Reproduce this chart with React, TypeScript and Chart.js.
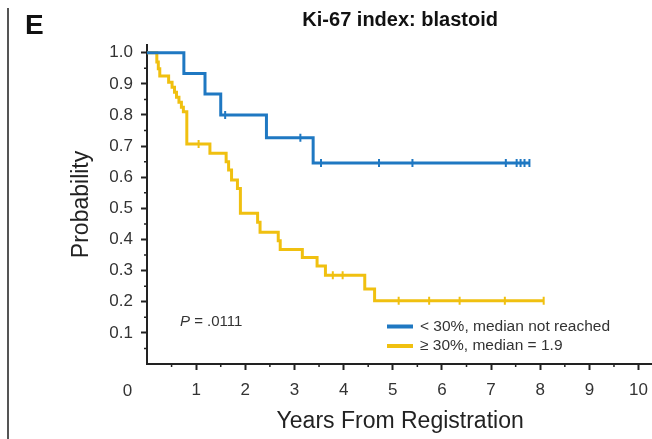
import { useEffect, useRef } from 'react';
import { Chart, registerables } from 'chart.js';

Chart.register(...registerables);

const FONT = "'Liberation Sans', Arial, Helvetica, sans-serif";

// ---- text ----
const panelLetter = 'E';
const chartTitle = 'Ki-67 index: blastoid';
const xAxisTitle = 'Years From Registration';
const yAxisTitle = 'Probability';
const originLabel = '0';
const pValueLetter = 'P';
const pValueText = ' = .0111';

// ---- ticks ----
const xTickValues = [1, 2, 3, 4, 5, 6, 7, 8, 9, 10];
const xMinorTicks = [0.5, 1.5, 2.5, 3.5, 4.5, 5.5, 6.5, 7.5, 8.5, 9.5];
const yTickValues = [0.1, 0.2, 0.3, 0.4, 0.5, 0.6, 0.7, 0.8, 0.9, 1.0];
const yMinorTicks = [0.05, 0.15, 0.25, 0.35, 0.45, 0.55, 0.65, 0.75, 0.85, 0.95];

// ---- series ----
const seriesLabels = ['< 30%, median not reached', '\u2265 30%, median = 1.9'];
const seriesColors = ['#1f78c2', '#f0c010'];

// < 30%
const lowEventTimes = [0, 0.75, 1.18, 1.5, 2.43, 3.38];
const lowEventSurv = [1.0, 0.933, 0.867, 0.8, 0.727, 0.646];
const lowCensorTimes = [1.59, 3.12, 3.54, 4.72, 5.4, 7.3, 7.52, 7.6, 7.68, 7.78];

// >= 30%
const highEventTimes = [0, 0.2, 0.23, 0.26, 0.44, 0.51, 0.56, 0.6, 0.65, 0.7, 0.74, 0.81, 1.28, 1.61, 1.66, 1.72, 1.84, 1.9, 2.25, 2.3, 2.67, 2.71, 3.16, 3.46, 3.63, 4.43, 4.63];
const highEventSurv = [1.0, 0.97, 0.948, 0.925, 0.905, 0.889, 0.873, 0.857, 0.841, 0.825, 0.81, 0.707, 0.677, 0.65, 0.623, 0.591, 0.564, 0.484, 0.455, 0.423, 0.396, 0.368, 0.342, 0.315, 0.285, 0.241, 0.203];
const highCensorTimes = [1.05, 3.78, 3.98, 5.12, 5.74, 6.36, 7.28, 8.07];

type Pt = { x: number; y: number; c: boolean };

function buildCurve(times: number[], surv: number[], censors: number[]): Pt[] {
  const pts: Pt[] = times.map((t, i) => ({ x: t, y: surv[i], c: false }));
  censors.forEach((t) => {
    let s = surv[0];
    times.forEach((et, i) => {
      if (et <= t) s = surv[i];
    });
    pts.push({ x: t, y: s, c: true });
  });
  pts.sort((a, b) => a.x - b.x);
  return pts;
}

const overlayPlugin = {
  id: 'overlay',
  afterDraw(chart: any) {
    const { ctx, chartArea, scales } = chart;
    const xs = scales.x;
    const ys = scales.y;
    ctx.save();

    // panel rule
    ctx.strokeStyle = '#555';
    ctx.lineWidth = 2;
    ctx.beginPath();
    ctx.moveTo(8, 8);
    ctx.lineTo(8, 439);
    ctx.stroke();

    // panel letter
    ctx.fillStyle = '#111';
    ctx.font = `bold 28px ${FONT}`;
    ctx.textAlign = 'left';
    ctx.textBaseline = 'alphabetic';
    ctx.fillText(panelLetter, 25, 34);

    // minor ticks
    ctx.strokeStyle = '#222';
    ctx.lineWidth = 1.5;
    ctx.beginPath();
    xMinorTicks.forEach((v) => {
      const px = xs.getPixelForValue(v);
      ctx.moveTo(px, chartArea.bottom);
      ctx.lineTo(px, chartArea.bottom + 3);
    });
    yMinorTicks.forEach((v) => {
      const py = ys.getPixelForValue(v);
      ctx.moveTo(chartArea.left, py);
      ctx.lineTo(chartArea.left - 3, py);
    });
    ctx.stroke();

    // origin label
    ctx.fillStyle = '#333';
    ctx.font = `17px ${FONT}`;
    ctx.textAlign = 'center';
    ctx.textBaseline = 'middle';
    ctx.fillText(originLabel, xs.getPixelForValue(0) - 19.5, chartArea.bottom + 27);

    // P value
    ctx.textAlign = 'left';
    ctx.font = `italic 15px ${FONT}`;
    const px0 = 180;
    const py0 = 322;
    ctx.fillText(pValueLetter, px0, py0);
    const w = ctx.measureText(pValueLetter).width;
    ctx.font = `15px ${FONT}`;
    ctx.fillText(pValueText, px0 + w, py0);

    // legend
    const legendRows = [326.5, 346];
    chart.data.datasets.forEach((ds: any, i: number) => {
      const y = legendRows[i];
      ctx.strokeStyle = ds.borderColor;
      ctx.lineWidth = 4;
      ctx.beginPath();
      ctx.moveTo(387, y);
      ctx.lineTo(413, y);
      ctx.stroke();
      ctx.fillStyle = '#333';
      ctx.font = `15.5px ${FONT}`;
      ctx.textAlign = 'left';
      ctx.textBaseline = 'middle';
      ctx.fillText(ds.label, 420, y);
    });

    ctx.restore();
  },
};

export default function App() {
  const ref = useRef<HTMLCanvasElement | null>(null);

  useEffect(() => {
    if (!ref.current) return;
    const curves = [
      buildCurve(lowEventTimes, lowEventSurv, lowCensorTimes),
      buildCurve(highEventTimes, highEventSurv, highCensorTimes),
    ];
    const chart = new Chart(ref.current, {
      type: 'line',
      data: {
        datasets: curves.map((pts, i) => ({
          label: seriesLabels[i],
          data: pts,
          borderColor: seriesColors[i],
          backgroundColor: seriesColors[i],
          borderWidth: 3,
          stepped: 'before',
          fill: false,
          pointStyle: 'line',
          rotation: 90,
          pointBorderColor: seriesColors[i],
          pointBorderWidth: 2,
          pointRadius: (c: any) => (c.raw && c.raw.c ? 4 : 0),
          pointHoverRadius: 0,
        })),
      },
      options: {
        responsive: false,
        animation: false,
        events: [],
        devicePixelRatio: 1,
        layout: { padding: { left: 0, top: 0, right: 46.7, bottom: 0 } },
        plugins: {
          legend: { display: false },
          tooltip: { enabled: false },
          title: {
            display: true,
            text: chartTitle,
            fullSize: false,
            color: '#111',
            font: { family: FONT, size: 20, weight: 'bold' },
            padding: { top: 8, bottom: 12.9 },
          },
        },
        scales: {
          x: {
            type: 'linear',
            min: 0,
            max: 10.3,
            afterBuildTicks: (s: any) => {
              s.ticks = xTickValues.map((v) => ({ value: v }));
            },
            afterFit: (s: any) => {
              s.height = 75;
            },
            grid: {
              drawOnChartArea: false,
              drawTicks: true,
              tickLength: 6,
              tickWidth: 2,
              tickColor: '#222',
            },
            border: { display: true, color: '#222', width: 2 },
            ticks: {
              autoSkip: false,
              maxRotation: 0,
              padding: 10,
              color: '#333',
              font: { family: FONT, size: 17 },
              callback: (v: any) => String(v),
            },
            title: {
              display: true,
              text: xAxisTitle,
              color: '#222',
              font: { family: FONT, size: 23 },
              padding: { top: 0, bottom: 4 },
            },
          },
          y: {
            type: 'linear',
            min: 0,
            max: 1.025,
            afterBuildTicks: (s: any) => {
              s.ticks = yTickValues.map((v) => ({ value: v }));
            },
            afterFit: (s: any) => {
              s.width = 147;
            },
            grid: {
              drawOnChartArea: false,
              drawTicks: true,
              tickLength: 6,
              tickWidth: 2,
              tickColor: '#222',
            },
            border: { display: true, color: '#222', width: 2 },
            ticks: {
              padding: 8,
              color: '#333',
              font: { family: FONT, size: 17 },
              callback: (v: any) => Number(v).toFixed(1),
            },
            title: {
              display: true,
              text: yAxisTitle,
              color: '#222',
              font: { family: FONT, size: 23 },
              padding: { top: 68, bottom: 0 },
            },
          },
        },
      } as any,
      plugins: [overlayPlugin],
    });
    return () => chart.destroy();
  }, []);

  return (
    <div
      style={{
        position: 'absolute',
        left: 0,
        top: 0,
        width: 652,
        height: 439,
        overflow: 'hidden',
        background: '#fff',
      }}
    >
      <canvas ref={ref} width={700} height={439} style={{ display: 'block', width: 700, height: 439 }} />
    </div>
  );
}
